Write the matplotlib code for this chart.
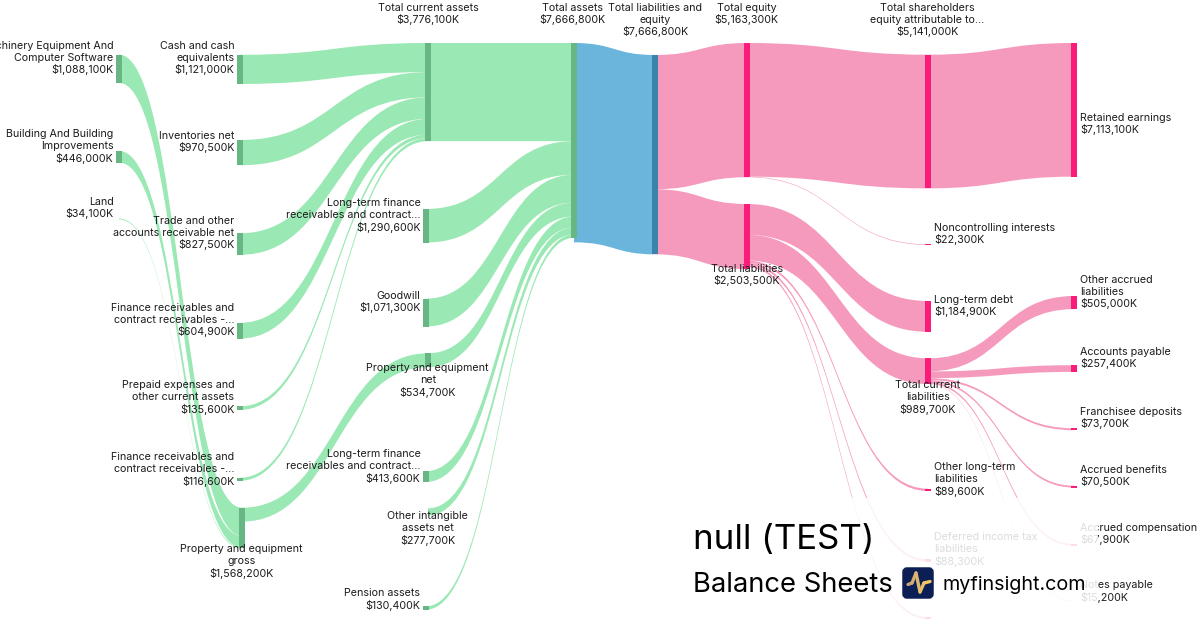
import matplotlib
matplotlib.use("Agg")
import matplotlib.pyplot as plt
from matplotlib.path import Path
from matplotlib.patches import PathPatch, Rectangle, FancyBboxPatch

plt.rcParams['font.family'] = ['Inter', 'DejaVu Sans']

# ---------- data (thousands of dollars) ----------
machinery = 1088100; building = 446000; land = 34100
ppe_gross = 1568200; ppe_net = 534700
cash = 1121000; inventories = 970500; trade = 827500
fin_rec_1 = 604900; prepaid = 135600; fin_rec_2 = 116600
current_assets = 3776100
lt_fin_1 = 1290600; goodwill = 1071300; lt_fin_2 = 413600
intangible = 277700; pension = 130400
total_assets = 7666800
equity = 5163300; liabilities = 2503500
shareholders = 5141000; noncontrolling = 22300
lt_debt = 1184900; current_liab = 989700; other_lt = 89600
deferred_tax = 88300; unlabeled_liab = 75000
other_accrued = 505000; payable = 257400; franchisee = 73700
benefits = 70500; compensation = 67900; notes = 15200

links = [
    ("machinery", "ppe_gross", machinery, "g"),
    ("building", "ppe_gross", building, "g"),
    ("land", "ppe_gross", land, "g"),
    ("cash", "current_assets", cash, "g"),
    ("inventories", "current_assets", inventories, "g"),
    ("trade", "current_assets", trade, "g"),
    ("fin1", "current_assets", fin_rec_1, "g"),
    ("prepaid", "current_assets", prepaid, "g"),
    ("fin2", "current_assets", fin_rec_2, "g"),
    ("ppe_gross", "ppe_net", ppe_net, "g"),
    ("current_assets", "assets", current_assets, "g"),
    ("lt1", "assets", lt_fin_1, "g"),
    ("goodwill", "assets", goodwill, "g"),
    ("ppe_net", "assets", ppe_net, "g"),
    ("lt2", "assets", lt_fin_2, "g"),
    ("intangible", "assets", intangible, "g"),
    ("pension", "assets", pension, "g"),
    ("assets", "tle", total_assets, "b"),
    ("tle", "equity", equity, "p"),
    ("tle", "liabilities", liabilities, "p"),
    ("equity", "shareholders", shareholders, "p"),
    ("equity", "nci", noncontrolling, "p"),
    ("shareholders", "retained", shareholders, "p"),
    ("liabilities", "lt_debt", lt_debt, "p"),
    ("liabilities", "current_liab", current_liab, "p"),
    ("liabilities", "other_lt", other_lt, "p"),
    ("liabilities", "deferred", deferred_tax, "p"),
    ("liabilities", "unlabeled", unlabeled_liab, "p"),
    ("current_liab", "other_accrued", other_accrued, "p"),
    ("current_liab", "payable", payable, "p"),
    ("current_liab", "franchisee", franchisee, "p"),
    ("current_liab", "benefits", benefits, "p"),
    ("current_liab", "compensation", compensation, "p"),
    ("current_liab", "notes", notes, "p"),
]

# ---------- layout: node -> (left x, top y, colour key) in pixels ----------
node_layout = {
    "machinery": (116, 54.7, "g"), "building": (116, 151, "g"), "land": (116, 218.6, "g"),
    "cash": (237, 54.8, "g"), "inventories": (237, 140, "g"), "trade": (237, 233.3, "g"),
    "fin1": (237, 322.8, "g"), "prepaid": (237, 406.3, "g"), "fin2": (237, 477.7, "g"),
    "ppe_gross": (239, 507.7, "g"),
    "current_assets": (425, 43, "g"), "lt1": (422.5, 209, "g"), "goodwill": (422.5, 298.7, "g"),
    "ppe_net": (425, 353.3, "g"), "lt2": (422.5, 471.3, "g"), "intangible": (425, 508.3, None),
    "pension": (422.5, 606.4, "g"),
    "assets": (571, 43, "g"), "tle": (651.5, 55, "b"),
    "equity": (744, 43, "p"), "liabilities": (744, 204, "p"),
    "shareholders": (925, 54.7, "p"), "nci": (925, 244.3, "p"), "lt_debt": (925, 301, "p"),
    "current_liab": (925, 358.3, "p"), "other_lt": (925, 488.7, "p"), "deferred": (925, 559.3, "p"),
    "unlabeled": (925, 617.2, "p"),
    "retained": (1071, 43, "p"), "other_accrued": (1071, 296, "p"), "payable": (1071, 365.2, "p"),
    "franchisee": (1071, 428.3, "p"), "benefits": (1071, 485.7, "p"),
    "compensation": (1071, 544, "p"), "notes": (1071, 601, "p"),
}
NODE_W = 6
PX_PER_UNIT = 2.6e-5
LINK_COL = {"g": "#9AE8B4", "b": "#6AB5DC", "p": "#F59ABC"}
NODE_COL = {"g": "#68B684", "b": "#3A84AB", "p": "#F91C7B"}
TEXT = "#1c1c1c"

# (text lines, x, first line centre y, ha)
labels = [
    (["Machinery Equipment And", "Computer Software", "$1,088,100K"], 113.5, 45, "right"),
    (["Building And Building", "Improvements", "$446,000K"], 113.5, 133.3, "right"),
    (["Land", "$34,100K"], 113.5, 201, "right"),
    (["Cash and cash", "equivalents", "$1,121,000K"], 234.5, 45, "right"),
    (["Inventories net", "$970,500K"], 234.5, 135, "right"),
    (["Trade and other", "accounts receivable net", "$827,500K"], 234.5, 220, "right"),
    (["Finance receivables and", "contract receivables -...", "$604,900K"], 234.5, 307, "right"),
    (["Prepaid expenses and", "other current assets", "$135,600K"], 234.5, 384.3, "right"),
    (["Finance receivables and", "contract receivables -...", "$116,600K"], 234.5, 456.3, "right"),
    (["Property and equipment", "gross", "$1,568,200K"], 241.7, 548.3, "center"),
    (["Total current assets", "$3,776,100K"], 428, 7, "center"),
    (["Long-term finance", "receivables and contract...", "$1,290,600K"], 420.5, 202.5, "right"),
    (["Goodwill", "$1,071,300K"], 420.5, 295, "right"),
    (["Property and equipment", "net", "$534,700K"], 427.7, 367.3, "center"),
    (["Long-term finance", "receivables and contract...", "$413,600K"], 420.5, 453.3, "right"),
    (["Other intangible", "assets net", "$277,700K"], 427.7, 515.3, "center"),
    (["Pension assets", "$130,400K"], 420.5, 592.3, "right"),
    (["Total assets", "$7,666,800K"], 572.3, 7, "center"),
    (["Total liabilities and", "equity", "$7,666,800K"], 655, 7, "center"),
    (["Total equity", "$5,163,300K"], 746.7, 7, "center"),
    (["Total liabilities", "$2,503,500K"], 746.7, 268, "center"),
    (["Total shareholders", "equity attributable to...", "$5,141,000K"], 927.3, 7, "center"),
    (["Total current", "liabilities", "$989,700K"], 927.7, 384.3, "center"),
    (["Noncontrolling interests", "$22,300K"], 934.3, 227, "left"),
    (["Long-term debt", "$1,184,900K"], 934.3, 299, "left"),
    (["Other long-term", "liabilities", "$89,600K"], 934.3, 466.3, "left"),
    (["Deferred income tax", "liabilities", "$88,300K"], 934.3, 536.3, "left"),
    (["Retained earnings", "$7,113,100K"], 1080.3, 117, "left"),
    (["Other accrued", "liabilities", "$505,000K"], 1080.3, 279, "left"),
    (["Accounts payable", "$257,400K"], 1080.3, 351, "left"),
    (["Franchisee deposits", "$73,700K"], 1080.3, 411, "left"),
    (["Accrued benefits", "$70,500K"], 1080.3, 469, "left"),
    (["Accrued compensation", "$67,900K"], 1080.3, 527, "left"),
    (["Notes payable", "$15,200K"], 1080.3, 584.3, "left"),
]

# ---------- figure ----------
fig = plt.figure(figsize=(12, 6.3), dpi=100)
ax = fig.add_axes([0, 0, 1, 1])
ax.set_xlim(0, 1200)
ax.set_ylim(630, 0)
ax.axis("off")

inflow = {}
outflow = {}
for s, t, v, _ in links:
    outflow[s] = outflow.get(s, 0) + v
    inflow[t] = inflow.get(t, 0) + v

out_cursor = {k: v[1] for k, v in node_layout.items()}
in_cursor = {k: v[1] for k, v in node_layout.items()}

for s, t, v, key in links:
    h = v * PX_PER_UNIT
    x0 = node_layout[s][0] + NODE_W / 2
    x1 = node_layout[t][0] + NODE_W / 2
    y0 = out_cursor[s]
    y1 = in_cursor[t]
    out_cursor[s] += h
    in_cursor[t] += h
    xm = (x0 + x1) / 2
    verts = [(x0, y0), (xm, y0), (xm, y1), (x1, y1),
             (x1, y1 + h), (xm, y1 + h), (xm, y0 + h), (x0, y0 + h), (x0, y0)]
    codes = [Path.MOVETO, Path.CURVE4, Path.CURVE4, Path.CURVE4,
             Path.LINETO, Path.CURVE4, Path.CURVE4, Path.CURVE4, Path.CLOSEPOLY]
    ax.add_patch(PathPatch(Path(verts, codes), facecolor=LINK_COL[key], edgecolor="none", zorder=1))

for name, (x, y, key) in node_layout.items():
    if key is None:
        continue
    h = inflow.get(name, outflow.get(name, 0)) * PX_PER_UNIT
    ax.add_patch(Rectangle((x, y), NODE_W, h, facecolor=NODE_COL[key], edgecolor="none", zorder=2))

for lines, x, y, ha in labels:
    for i, line in enumerate(lines):
        ax.text(x, y + 0.8 + i * 12, line, ha=ha, va="center", fontsize=7.7, color=TEXT, zorder=3)

# translucent panel behind the title block
ax.add_patch(Rectangle((685, 498), 413, 132, facecolor="white", edgecolor="none", alpha=0.85, zorder=4))

ax.text(693, 540.5, "null (TEST)", fontsize=25.1, color="black", va="center", ha="left", zorder=5)
ax.text(693, 585, "Balance Sheets", fontsize=19.7, color="black", va="center", ha="left", zorder=5)
ax.text(942, 584.5, "myfinsight.com", fontsize=14.2, color="black", va="center", ha="left", zorder=5)

ax.add_patch(FancyBboxPatch((904, 569), 28, 28, boxstyle="round,pad=0,rounding_size=0.1",
                            mutation_scale=30, facecolor="#0B1F54", edgecolor="#0B1F54",
                            linewidth=2.5, zorder=5))
pulse_x = [908, 912, 916, 920, 924, 930]
pulse_y = [584.5, 583, 573, 592, 583, 581.5]
pulse_c = ["#C9A27A", "#D4AC73", "#DDB56E", "#E8BE68", "#F2C766"]
for i in range(5):
    ax.plot(pulse_x[i:i + 2], pulse_y[i:i + 2], color=pulse_c[i], lw=2.4,
            solid_capstyle="round", zorder=6)

fig.savefig("out.png", dpi=100, facecolor="white")
